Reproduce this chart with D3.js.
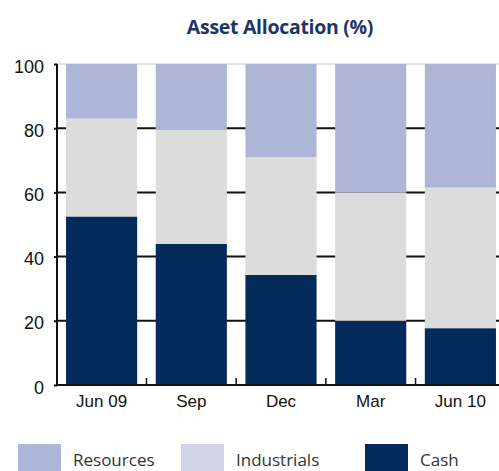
<!DOCTYPE html>
<html>
<head>
<meta charset="utf-8">
<script src="https://cdn.jsdelivr.net/npm/d3@7"></script>
<style>
  body { margin: 0; background: #fff; }
  svg { display: block; }
</style>
</head>
<body>
<div id="chart"></div>
<script>
// chart data
var periods = ["Jun 09", "Sep", "Dec", "Mar", "Jun 10"];
var cash = [52.5, 44, 34.3, 20, 17.7];
var industrials = [30.5, 35.5, 36.7, 40, 43.8];
var resources = [17, 20.5, 29, 40, 38.5];
var yTicks = [0, 20, 40, 60, 80, 100];
var seriesNames = ["Resources", "Industrials", "Cash"];

var W = 499, H = 471;
var svg = d3.select("#chart").append("svg")
    .attr("width", W)
    .attr("height", H);

var rows = periods.map(function (p, i) {
    return { period: p, Cash: cash[i], Industrials: industrials[i], Resources: resources[i] };
});

var stack = d3.stack().keys(["Cash", "Industrials", "Resources"]);
var layers = stack(rows);

var colors = { Cash: "#022a5a", Industrials: "#dcdcdc", Resources: "#adb6d7" };
var legendColors = { Cash: "#022a5a", Industrials: "#d2d5e8", Resources: "#adb6d7" };

var x = d3.scaleBand().domain(periods)
    .range([56, 506])
    .paddingInner(0.207)
    .paddingOuter(0.112);
var y = d3.scaleLinear().domain([0, 100]).range([385, 64]);

// title
svg.append("text")
    .attr("x", 280)
    .attr("y", 34)
    .attr("text-anchor", "middle")
    .style("font-family", "'Open Sans', sans-serif")
    .style("font-size", "19.5px")
    .style("font-weight", 700)
    .style("letter-spacing", "-0.3px")
    .attr("fill", "#1d3566")
    .text("Asset Allocation (%)");

// gridlines behind bars
svg.append("g")
    .selectAll("line")
    .data(yTicks.filter(function (d) { return d > 0 && d < 100; }))
    .join("line")
    .attr("x1", 56).attr("x2", W)
    .attr("y1", function (d) { return y(d); })
    .attr("y2", function (d) { return y(d); })
    .attr("stroke", "#111")
    .attr("stroke-width", 2);

svg.append("line")
    .attr("x1", 56).attr("x2", W)
    .attr("y1", y(100)).attr("y2", y(100))
    .attr("stroke", "#ccc")
    .attr("stroke-width", 1);

// bars
svg.append("g")
    .selectAll("g")
    .data(layers)
    .join("g")
    .attr("fill", function (d) { return colors[d.key]; })
    .selectAll("rect")
    .data(function (d) { return d; })
    .join("rect")
    .attr("x", function (d) { return x(d.data.period); })
    .attr("width", x.bandwidth())
    .attr("y", function (d) { return y(d[1]); })
    .attr("height", function (d) { return y(d[0]) - y(d[1]); });

// y axis
var yAxis = svg.append("g")
    .attr("transform", "translate(57,0)")
    .call(d3.axisLeft(y).tickValues(yTicks).tickSize(3).tickPadding(10));
yAxis.select(".domain").attr("stroke", "#111").attr("stroke-width", 2).attr("d", "M0," + y(100) + "V" + y(0));
yAxis.selectAll(".tick line").attr("stroke", "#111").attr("stroke-width", 2);
yAxis.selectAll("text")
    .attr("dy", "0.45em")
    .style("font-family", "'Liberation Sans', Arial, sans-serif")
    .style("font-size", "18px")
    .attr("fill", "#111");

// x axis baseline and separators
svg.append("line")
    .attr("x1", 56).attr("x2", W)
    .attr("y1", y(0)).attr("y2", y(0))
    .attr("stroke", "#111")
    .attr("stroke-width", 2);

var step = x.step();
svg.append("g")
    .selectAll("line")
    .data(periods.slice(1))
    .join("line")
    .attr("x1", function (d) { return x(d) - (step - x.bandwidth()) / 2; })
    .attr("x2", function (d) { return x(d) - (step - x.bandwidth()) / 2; })
    .attr("y1", y(0))
    .attr("y2", y(0) - 7)
    .attr("stroke", "#111")
    .attr("stroke-width", 1.5);

svg.append("g")
    .selectAll("text")
    .data(periods)
    .join("text")
    .attr("x", function (d) { return x(d) + x.bandwidth() / 2; })
    .attr("y", 407)
    .attr("text-anchor", "middle")
    .style("font-family", "'Liberation Sans', Arial, sans-serif")
    .style("font-size", "17px")
    .attr("fill", "#111")
    .text(function (d) { return d; });

// legend
var legendX = [18, 181, 365];
var legend = svg.append("g")
    .selectAll("g")
    .data(seriesNames)
    .join("g")
    .attr("transform", function (d, i) { return "translate(" + legendX[i] + ",444)"; });

legend.append("rect")
    .attr("width", 43)
    .attr("height", 27)
    .attr("fill", function (d) { return legendColors[d]; });

legend.append("text")
    .attr("x", 55)
    .attr("y", 22)
    .style("font-family", "'Open Sans', sans-serif")
    .style("font-size", "17px")
    .attr("fill", "#333")
    .text(function (d) { return d; });
</script>
</body>
</html>
